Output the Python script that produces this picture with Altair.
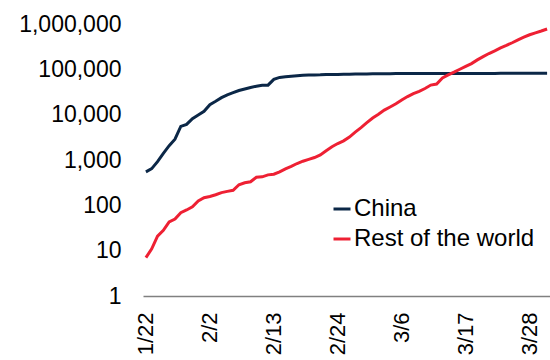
import altair as alt
import pandas as pd

dates = pd.date_range("2020-01-22", "2020-03-31").strftime("%Y/%m/%d").tolist()

china = [548, 643, 920, 1406, 2075, 2877, 5509, 6087, 8141, 9802,
         11891, 16630, 19716, 23707, 27440, 30587, 34110, 36814, 39829, 42354,
         44386, 44759, 59895, 66358, 68413, 70513, 72434, 74211, 74619, 75077,
         75550, 77001, 77022, 77241, 77754, 78166, 78600, 78928, 79356,
         79932, 80136, 80261, 80386, 80537, 80690, 80770, 80823, 80860, 80887,
         80921, 80932, 80945, 80977, 81003, 81033, 81058, 81102, 81156, 81250,
         81305, 81435, 81498, 81591, 81661, 81782, 81897, 81999, 82122, 82198,
         82279]

rest_of_world = [7, 11, 21, 28, 43, 50, 69, 79, 93, 125,
                 147, 157, 171, 191, 203, 215, 285, 315, 331, 415,
                 425, 470, 486, 549, 638, 722, 836, 941, 1033, 1135,
                 1291, 1601, 1960, 2305, 2645, 3210, 4136, 5192, 6655,
                 8437, 10170, 12579, 14734, 17349, 21111, 25077, 28998, 32730, 37733,
                 44954, 47420, 64260, 75124, 86451, 100541, 116044, 133719, 161414, 190958,
                 223202, 255518, 296737, 336454, 385992, 447809, 511394, 578707, 637995, 700167,
                 775208]

series_names = ["China", "Rest of the world"]
series_colors = ["#0B2747", "#EE2033"]
y_ticks = [1, 10, 100, 1000, 10000, 100000, 1000000]
x_ticks = [(1, 22), (2, 2), (2, 13), (2, 24), (3, 6), (3, 17), (3, 28)]

df = pd.DataFrame({
    "date": dates * 2,
    "value": china + rest_of_world,
    "series": [series_names[0]] * len(china) + [series_names[1]] * len(rest_of_world),
})

FONT = "Liberation Sans"

chart = alt.Chart(df).mark_line(strokeWidth=3, clip=True).encode(
    x=alt.X("date:T",
            scale=alt.Scale(domain=[alt.DateTime(year=2020, month=1, date=21, hours=12),
                                    alt.DateTime(year=2020, month=3, date=31, hours=12)]),
            axis=alt.Axis(values=[alt.DateTime(year=2020, month=m, date=d) for m, d in x_ticks],
                          format="%-m/%-d", labelAngle=270, labelAlign="right",
                          labelBaseline="middle", labelPadding=16, labelFontSize=22,
                          labelFont=FONT, labelColor="#000000", ticks=False, grid=False,
                          domainColor="#808080", domainWidth=1.3, labelOverlap=False,
                          labelFlush=False, title=None)),
    y=alt.Y("value:Q",
            scale=alt.Scale(type="log", domain=[1, 1000000], nice=False),
            axis=alt.Axis(values=y_ticks, format=",", domain=False, ticks=False, grid=False,
                          labelFontSize=23, labelFont=FONT, labelColor="#000000",
                          labelPadding=22, labelOverlap=False, labelFlush=False, title=None)),
    color=alt.Color("series:N",
                    scale=alt.Scale(domain=series_names, range=series_colors),
                    legend=alt.Legend(orient="none", legendX=187, legendY=173, title=None,
                                      symbolType="stroke", symbolSize=289, symbolStrokeWidth=3,
                                      labelFontSize=24, labelFont=FONT, labelColor="#000000",
                                      labelOffset=0, labelLimit=0, rowPadding=6, padding=0)),
).properties(
    width=407, height=272,
    autosize=alt.AutoSizeParams(type="none"),
    padding={"left": 143, "top": 24, "right": 0, "bottom": 64},
).configure_view(stroke=None)

chart.save("out.html", embed_options={"renderer": "svg", "actions": False})
